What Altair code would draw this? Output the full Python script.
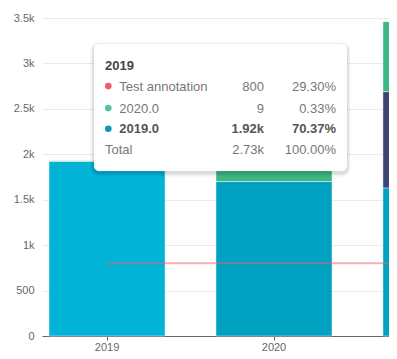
import altair as alt
import pandas as pd

# ---- data ----
categories = ["2019", "2020", "2021"]
series_names = ["2019.0", "2021.0", "2020.0"]          # stack order, bottom -> top
values_s2019 = [1921, 1700, 1630]
values_s2021 = [0, 0, 1060]
values_s2020 = [9, 200, 770]
annotation_label = "Test annotation"
annotation_value = 800
hovered_category = "2019"
hovered_series = "2019.0"
y_ticks = [0, 500, 1000, 1500, 2000, 2500, 3000, 3500]
x_labels_shown = ["2019", "2020"]   # the third category's label falls outside the view

series_colors = {"2019.0": "#00a1c1", "2021.0": "#3c4573", "2020.0": "#3db883"}
hover_colors = {"2019.0": "#00b3d7", "2021.0": "#48528a", "2020.0": "#45cf94"}
annotation_color = "#ee5a6c"
dot_colors = {"2019.0": "#0799b8", "2021.0": "#3c4573", "2020.0": "#56c596"}

FONT = "Liberation Sans"

rows = []
for i, (name, vals) in enumerate(zip(series_names, [values_s2019, values_s2021, values_s2020])):
    for c, v in zip(categories, vals):
        rows.append({"category": c, "series": name, "value": v, "order": i})
df = pd.DataFrame(rows)

keys, key_colors = [], []
for s in series_names:
    keys += [s, s + " hi"]
    key_colors += [series_colors[s], hover_colors[s]]

x_enc = alt.X(
    "category:N", sort=categories,
    scale=alt.Scale(domain=categories, range=[0, 464], paddingInner=0.305, paddingOuter=0.042),
    axis=alt.Axis(title=None, labelAngle=0, grid=False, domainColor="#666", tickColor="#666",
                  tickSize=4, labelColor="#666", labelFontSize=11, labelPadding=1, labelFont=FONT,
                  values=x_labels_shown),
)
y_scale = alt.Scale(domain=[0, 3500], nice=False)

bars = alt.Chart(df).transform_filter("datum.value > 0").transform_calculate(
    key=f"datum.series + (datum.category == '{hovered_category}' ? ' hi' : '')"
).mark_bar(stroke="white", strokeOpacity=0.45, strokeWidth=1).encode(
    x=x_enc,
    y=alt.Y("value:Q", stack="zero", scale=y_scale,
            axis=alt.Axis(title=None, domain=False, ticks=False, gridColor="#e7eaf1",
                          labelColor="#666", labelFontSize=11, labelPadding=8,
                          labelExpr="datum.value >= 1000 ? format(datum.value / 1000, '~g') + 'k' : datum.value",
                          values=y_ticks, labelFont=FONT)),
    color=alt.Color("key:N", scale=alt.Scale(domain=keys, range=key_colors), legend=None),
    order=alt.Order("order:Q"),
)

rule_df = pd.DataFrame({"start": [categories[0]], "end": [categories[-1]], "value": [annotation_value]})
rule = alt.Chart(rule_df).mark_rule(color="#f5606f", opacity=0.5, strokeWidth=2).encode(
    x=alt.X("start:N", sort=categories),
    x2="end:N",
    y=alt.Y("value:Q", scale=y_scale),
)

# ---- tooltip overlay ----
def fmt(v):
    return f"{v/1000:.2f}k" if v >= 1000 else f"{v}"

ci = categories.index(hovered_category)
items = [(annotation_label, annotation_value, annotation_color, False)]
for s, vals in reversed(list(zip(series_names, [values_s2019, values_s2021, values_s2020]))):
    if vals[ci] > 0:
        items.append((s, vals[ci], dot_colors[s], s == hovered_series))
total = sum(v for _, v, _, _ in items)

one = pd.DataFrame({"a": [0]})
layers = []
bx0, bx1, by0, by1 = 52, 305, 26, 153
for k, op in [(4, 0.025), (3, 0.03), (2, 0.04), (1, 0.05)]:
    layers.append(alt.Chart(one).mark_rect(fill="black", opacity=op, cornerRadius=5 + k).encode(
        x=alt.value(bx0 - k), x2=alt.value(bx1 + k), y=alt.value(by0 - k + 2), y2=alt.value(by1 + k + 2)))
layers.append(alt.Chart(one).mark_rect(fill="white", cornerRadius=5).encode(
    x=alt.value(bx0), x2=alt.value(bx1), y=alt.value(by0), y2=alt.value(by1)))

def text(s, x, y, align="left", bold=False, color="#666", size=13):
    return alt.Chart(one).mark_text(
        text=s, align=align, baseline="alphabetic", font=FONT, fontSize=size,
        fontWeight="bold" if bold else "normal", color=color
    ).encode(x=alt.value(x), y=alt.value(y))

layers.append(text(hovered_category, 63, 52, bold=True, color="#444"))
row_y = [72.7, 94.7, 115.3, 136]
for (label, v, col, bold), yb in zip(items, row_y):
    layers.append(alt.Chart(one).mark_point(filled=True, shape="circle", size=44, color=col, opacity=1).encode(
        x=alt.value(66.3), y=alt.value(yb - 4.6)))
    c = "#555" if bold else "#777"
    layers.append(text(label, 77.3, yb, bold=bold, color=c))
    layers.append(text(fmt(v), 222, yb, align="right", bold=bold, color=c))
    layers.append(text(f"{v/total*100:.2f}%", 294, yb, align="right", bold=bold, color=c))
yb = row_y[len(items)]
layers.append(text("Total", 63, yb, color="#777"))
layers.append(text(fmt(total), 222, yb, align="right", color="#777"))
layers.append(text("100.00%", 294, yb, align="right", color="#777"))

chart = alt.layer(bars, rule, *layers).properties(
    width=347, height=318,
    autosize=alt.AutoSizeParams(type="none"),
    padding={"left": 34, "top": 10, "right": 0, "bottom": 15},
).configure_view(stroke=None)

chart.save("out.html", embed_options={"renderer": "svg", "actions": False})
